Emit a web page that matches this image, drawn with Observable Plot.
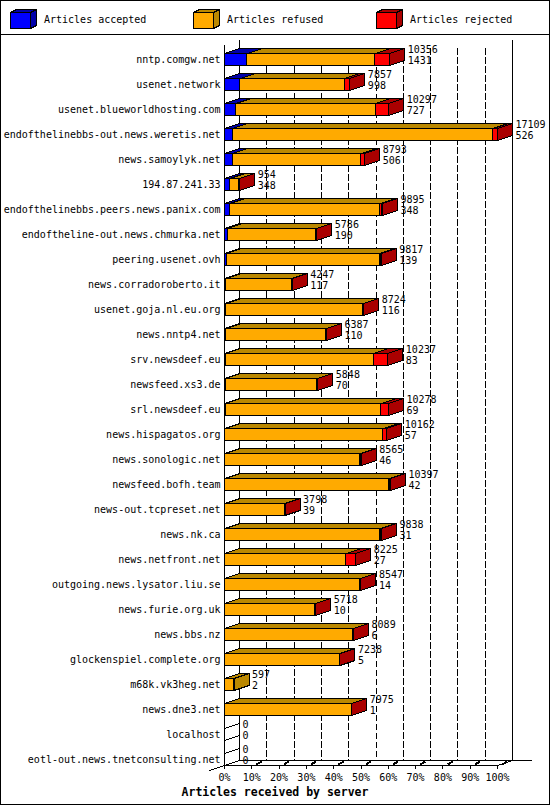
<!DOCTYPE html>
<html>
<head>
<meta charset="utf-8">
<script src="https://cdn.jsdelivr.net/npm/d3@7"></script>
<script src="https://cdn.jsdelivr.net/npm/@observablehq/plot@0.6"></script>
<style>
html, body { margin: 0; padding: 0; background: #fff; }
#wrap { position: relative; width: 550px; height: 805px; overflow: hidden; font-family: "DejaVu Sans Mono", monospace; background: #fff; }
#frame { position: absolute; left: 0; top: 0; width: 548px; height: 803px; border: 1px solid #000; pointer-events: none; z-index: 5; }
#legend { position: absolute; left: 0; top: 0; width: 550px; height: 35px; border-bottom: 1px solid #000; box-sizing: border-box; }
#legend .lab { position: absolute; top: 14px; font-size: 10px; line-height: 12px; white-space: pre; color: #000; }
#legend svg { position: absolute; left: 0; top: 0; }
#chart { position: absolute; left: 0; top: 35px; }
#caption { position: absolute; left: 0; width: 550px; top: 784px; height: 16px; line-height: 16px; text-align: center; font-weight: bold; font-size: 11.5px; color: #000; padding-left: 0px; }
</style>
</head>
<body>
<div id="wrap">
  <div id="legend"></div>
  <div id="chart"></div>
  <div id="caption"></div>
  <div id="frame"></div>
</div>
<script>
// ---------------- data ----------------
const servers = [
  "nntp.comgw.net",
  "usenet.network",
  "usenet.blueworldhosting.com",
  "endofthelinebbs-out.news.weretis.net",
  "news.samoylyk.net",
  "194.87.241.33",
  "endofthelinebbs.peers.news.panix.com",
  "endoftheline-out.news.chmurka.net",
  "peering.usenet.ovh",
  "news.corradoroberto.it",
  "usenet.goja.nl.eu.org",
  "news.nntp4.net",
  "srv.newsdeef.eu",
  "newsfeed.xs3.de",
  "srl.newsdeef.eu",
  "news.hispagatos.org",
  "news.sonologic.net",
  "newsfeed.bofh.team",
  "news-out.tcpreset.net",
  "news.nk.ca",
  "news.netfront.net",
  "outgoing.news.lysator.liu.se",
  "news.furie.org.uk",
  "news.bbs.nz",
  "glockenspiel.complete.org",
  "m68k.vk3heg.net",
  "news.dne3.net",
  "localhost",
  "eotl-out.news.tnetconsulting.net"
];
// total articles offered (upper label)
const total = [10356, 7857, 10297, 17109, 8793, 954, 9895, 5786, 9817, 4247, 8724, 6387, 10237, 5848, 10278, 10162, 8565, 10397, 3798, 9838, 8225, 8547, 5718, 8089, 7238, 597, 7975, 0, 0];
// articles accepted (lower label)
const accepted = [1431, 998, 727, 526, 506, 348, 348, 190, 139, 117, 116, 110, 83, 70, 69, 57, 46, 42, 39, 31, 27, 14, 10, 6, 5, 2, 1, 0, 0];
// articles rejected (estimated from the red segment widths)
const rejected = [900, 330, 830, 280, 220, 15, 120, 30, 100, 20, 20, 15, 880, 20, 440, 200, 50, 60, 20, 80, 600, 40, 20, 20, 20, 0, 15, 0, 0];

const seriesNames = ["Articles accepted", "Articles refused", "Articles rejected"];
const frontColors = ["#0000ff", "#ffaa00", "#ff0000"];
const darkColors  = ["#0000aa", "#bb8800", "#aa0000"];
const xTicks = d3.range(0, 101, 10);
const gridTicks = d3.range(10, 100, 10);
const captionText = "Articles received by server";

// ---------------- geometry ----------------
const W = 550, H = 750;
const X0 = 224, X100 = 497;          // pixel range of 0%..100% (front plane)
const ROW0 = 24, ROWPX = 25;          // pixel position of first row, row pitch
const DEPTH = 15, RISE = 5, HALF = 6; // 3D depth offset and half bar height (px)
const n = servers.length;
const pxX = (X100 - X0) / 100;
const DX = DEPTH / pxX;               // depth in x units (%)
const DY = RISE / ROWPX;              // rise in row units
const HH = HALF / ROWPX;              // half bar in row units
const maxTotal = d3.max(total);
const pct = v => v / maxTotal * 100;

const yWallTop = -(ROW0 - 5) / ROWPX;
const floorFront = (n - 1) + HH;
const floorBack = floorFront - DY;

// ---------------- build bar faces ----------------
const fronts = [[], [], []];
const faces = [[], [], []];
const empties = [];
const poly = (pts, id) => pts.map(([x, y]) => ({x, y, id}));

servers.forEach((s, i) => {
  const a = accepted[i], r = rejected[i], f = total[i] - a - r;
  const yt = i - HH, yb = i + HH;
  if (total[i] === 0) {
    empties.push(...poly([[0, yt], [DX, yt - DY], [DX, yb - DY], [0, yb], [0, yt]], "e" + i));
    return;
  }
  let c = 0;
  [a, f, r].forEach((v, k) => {
    if (v <= 0) return;
    const x1 = pct(c), x2 = pct(c + v);
    c += v;
    fronts[k].push({x1, x2, y1: yt, y2: yb});
    faces[k].push(...poly([[x1, yt], [x2, yt], [x2 + DX, yt - DY], [x1 + DX, yt - DY], [x1, yt]], `t${i}-${k}`));
    faces[k].push(...poly([[x2, yt], [x2 + DX, yt - DY], [x2 + DX, yb - DY], [x2, yb], [x2, yt]], `s${i}-${k}`));
  });
});

// structural lines
const structure = [
  ...poly([[0, yWallTop + DY], [0, floorFront]], "frontAxis"),
  ...poly([[DX, yWallTop], [DX, floorBack]], "backWall"),
  ...poly([[100 + DX, yWallTop], [100 + DX, floorBack]], "rightWall"),
  ...poly([[0, floorFront], [100, floorFront]], "floorFront"),
  ...poly([[DX, floorBack], [100 + DX + 19 / pxX, floorBack]], "floorBack"),
  ...poly([[-DX, floorFront + DY], [DX, floorBack]], "leftDiag"),
  ...poly([[100, floorFront], [100 + DX, floorBack]], "rightDiag")
];
const grid = gridTicks.flatMap(t => poly([[t + DX, i0 = -(0.44)], [t + DX, floorBack]], "g" + t));
const backTicks = xTicks.slice(1).flatMap(t => poly([[t + 5.5 / pxX, floorFront - 1.5 / ROWPX], [t + 9 / pxX, floorFront - 3.5 / ROWPX]], "bt" + t));

const marks = [];
marks.push(Plot.line(grid, {x: "x", y: "y", z: "id", stroke: "#000", strokeWidth: 1, strokeDasharray: "6,3"}));
marks.push(Plot.line(structure, {x: "x", y: "y", z: "id", stroke: "#000", strokeWidth: 1}));
marks.push(Plot.line(backTicks, {x: "x", y: "y", z: "id", stroke: "#000", strokeWidth: 2}));
marks.push(Plot.line(empties, {x: "x", y: "y", z: "id", stroke: "#000", fill: "none", strokeWidth: 1}));
for (let k = 0; k < 3; k++) {
  marks.push(Plot.rect(fronts[k], {x1: "x1", x2: "x2", y1: "y1", y2: "y2", fill: frontColors[k], stroke: "#000", strokeWidth: 1}));
  marks.push(Plot.line(faces[k], {x: "x", y: "y", z: "id", fill: darkColors[k], stroke: "#000", strokeWidth: 1, strokeLinejoin: "miter"}));
}
marks.push(Plot.text(servers, {x: 0, y: (d, i) => i, text: d => d, textAnchor: "end", dx: -4, fontSize: 10, fill: "#000"}));
marks.push(Plot.text(servers, {x: (d, i) => pct(total[i]) + DX, y: (d, i) => i - 0.37, text: (d, i) => String(total[i]), textAnchor: "start", dx: 3, fontSize: 10, fill: "#000"}));
marks.push(Plot.text(servers, {x: (d, i) => pct(total[i]) + DX, y: (d, i) => i + 0.06, text: (d, i) => String(accepted[i]), textAnchor: "start", dx: 3, fontSize: 10, fill: "#000"}));
marks.push(Plot.axisX(xTicks, {tickFormat: d => d + "%", tickSize: 4, tickPadding: 4, fontSize: 10, label: null, anchor: "bottom"}));

const chart = Plot.plot({
  width: W,
  height: H,
  marginLeft: 0,
  marginRight: 0,
  marginTop: 0,
  marginBottom: H - (ROW0 + ROWPX * (n - 1) + HALF),
  x: {domain: [0, 100], range: [X0, X100]},
  y: {domain: [0, n - 1], range: [ROW0, ROW0 + ROWPX * (n - 1)], axis: null},
  style: {fontFamily: "DejaVu Sans Mono, monospace", fontSize: "10px", background: "#fff", color: "#000", overflow: "visible", shapeRendering: "crispEdges"},
  marks
});
document.getElementById("chart").appendChild(chart);

// ---------------- legend ----------------
const legend = document.getElementById("legend");
const legendX = [10, 193, 376];
const ns = "http://www.w3.org/2000/svg";
const lsvg = document.createElementNS(ns, "svg");
lsvg.setAttribute("width", 550);
lsvg.setAttribute("height", 34);
lsvg.setAttribute("shape-rendering", "crispEdges");
seriesNames.forEach((name, k) => {
  const x = legendX[k] + 0.5, y = 12.5, w = 20, h = 16, dx = 6, dy = 3;
  const shapes = [
    [`${x},${y} ${x + w},${y} ${x + w},${y + h} ${x},${y + h}`, frontColors[k]],
    [`${x},${y} ${x + dx},${y - dy} ${x + w + dx},${y - dy} ${x + w},${y}`, darkColors[k]],
    [`${x + w},${y} ${x + w + dx},${y - dy} ${x + w + dx},${y + h - dy} ${x + w},${y + h}`, darkColors[k]]
  ];
  shapes.forEach(([pts, col]) => {
    const p = document.createElementNS(ns, "polygon");
    p.setAttribute("points", pts);
    p.setAttribute("fill", col);
    p.setAttribute("stroke", "#000");
    p.setAttribute("stroke-width", 1);
    lsvg.appendChild(p);
  });
  const lab = document.createElement("div");
  lab.className = "lab";
  lab.style.left = (legendX[k] + 34) + "px";
  lab.textContent = name;
  legend.appendChild(lab);
});
legend.appendChild(lsvg);
document.getElementById("caption").textContent = captionText;
</script>
</body>
</html>
